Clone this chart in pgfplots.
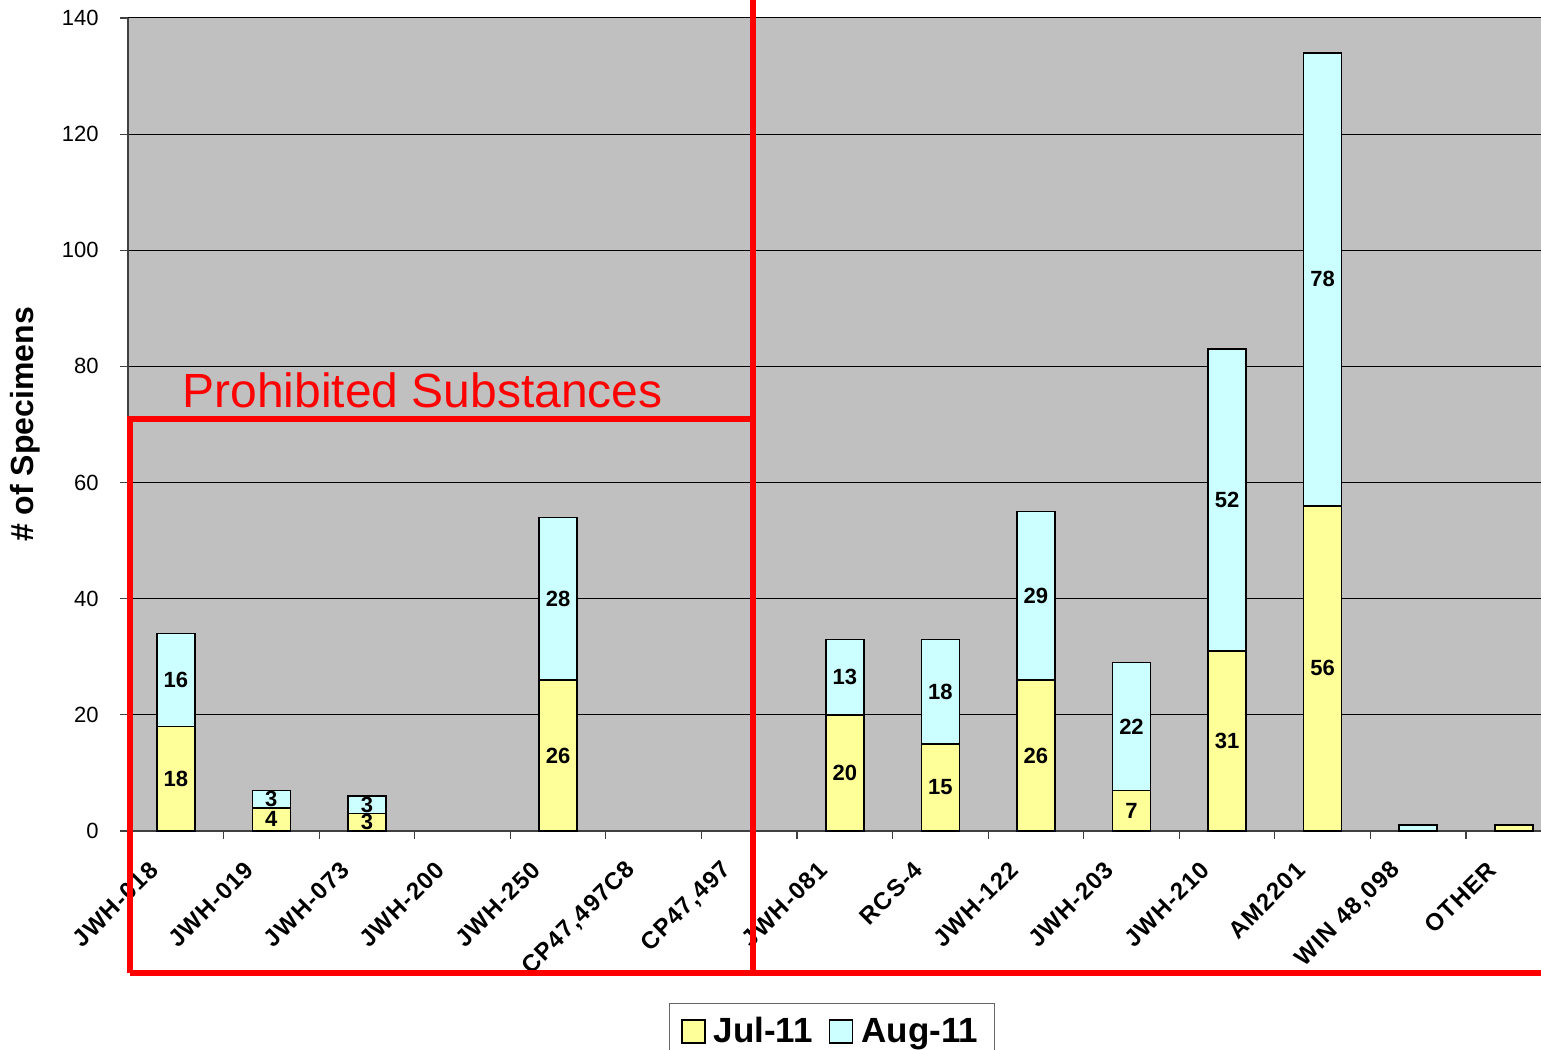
\documentclass[border=0pt]{standalone}
\usepackage{fontspec}
\setmainfont{Liberation Sans}
\newfontfamily\tickfont[LetterSpace=5]{Liberation Sans}
\usepackage{pgfplots}
\usepackage{pgfplotstable}
\pgfplotsset{compat=1.18}
\definecolor{julc}{HTML}{FFFF99}
\definecolor{augc}{HTML}{CCFFFF}
\definecolor{bgc}{HTML}{C0C0C0}
\definecolor{redc}{HTML}{FF0000}
\pgfplotstableread{
x jul aug jl al
0 18 16 18 16
1 4 3 4 3
2 3 3 3 3
3 0 0 {} {}
4 26 28 26 28
5 0 0 {} {}
6 0 0 {} {}
7 20 13 20 13
8 15 18 15 18
9 26 29 26 29
10 7 22 7 22
11 31 52 31 52
12 56 78 56 78
13 0 1 {} {}
14 1 0 {} {}
}\datatab
\begin{document}
\begin{tikzpicture}
\useasboundingbox (0,0) rectangle (770.5pt,524.5pt);
\begin{axis}[
  at={(64pt,109pt)}, anchor=south west,
  scale only axis, width=706.5pt, height=406.5pt,
  ybar stacked, bar width=19pt,
  xmin=-0.5, xmax=14.285, ymin=0, ymax=140,
  ytick={0,20,...,140},
  xtick={0,...,14},
  xticklabels={JWH-018,JWH-019,JWH-073,JWH-200,JWH-250,{CP47,497C8},{CP47,497},JWH-081,RCS-4,JWH-122,JWH-203,JWH-210,AM2201,{WIN 48,098},OTHER},
  minor xtick={0.5,1.5,...,13.5},
  axis lines*=left,
  axis line style={black!75, line width=0.8pt},
  tick align=outside,
  major tick length=4pt, minor tick length=4pt,
  major x tick style={draw=none},
  minor x tick style={black!75, line width=0.6pt},
  major y tick style={black!75, line width=0.6pt},
  ymajorgrids, grid style={black, line width=0.5pt},
  axis background/.style={fill=bgc},
  /pgf/number format/assume math mode=true,
  yticklabel style={font=\fontsize{11}{13}\selectfont, inner sep=0pt, xshift=-10.5pt},
  xticklabel style={font=\tickfont\bfseries\fontsize{12}{14}\selectfont, xshift=-8.5pt, yshift=-11pt, rotate=45, anchor=east},
  ylabel={\# of Specimens},
  every axis y label/.style={at={(axis description cs:-0.0729,0.5)}, rotate=90, anchor=center, font=\bfseries\fontsize{16}{18}\selectfont},
  legend style={at={(axis description cs:0.498,-0.2116)}, anchor=north, legend columns=2, draw=black!60, font=\bfseries\fontsize{17.5}{20}\selectfont, inner xsep=6pt, inner ysep=5pt, /tikz/every even column/.append style={column sep=6pt}, /tikz/every odd column/.append style={column sep=2pt}},
  legend cell align=left,
  legend image code/.code={\draw[#1, draw=black, line width=0.75pt] (0pt,-5.75pt) rectangle (11.5pt,5.75pt);},
  nodes near coords, point meta=explicit symbolic,
  nodes near coords style={font=\bfseries\fontsize{11}{13}\selectfont, text=black, anchor=center},
]
\addplot[fill=julc, draw=black, line width=0.75pt] table[x=x, y=jul, meta=jl]{\datatab};
\addlegendentry{Jul-11}
\addplot[fill=augc, draw=black, line width=0.75pt] table[x=x, y=aug, meta=al]{\datatab};
\addlegendentry{Aug-11}
\end{axis}
\draw[redc, line width=3pt] (376.5pt,530pt) -- (376.5pt,38pt);
\draw[redc, line width=3pt] (64.75pt,38pt) -- (64.75pt,314.75pt) -- (376.5pt,314.75pt);
\draw[redc, line width=3pt] (64.75pt,38pt) -- (780pt,38pt);
\node[text=redc, font=\fontsize{24}{28}\selectfont, anchor=base west, inner sep=0pt] at (91pt,320.5pt) {Prohibited Substances};
\end{tikzpicture}
\end{document}
